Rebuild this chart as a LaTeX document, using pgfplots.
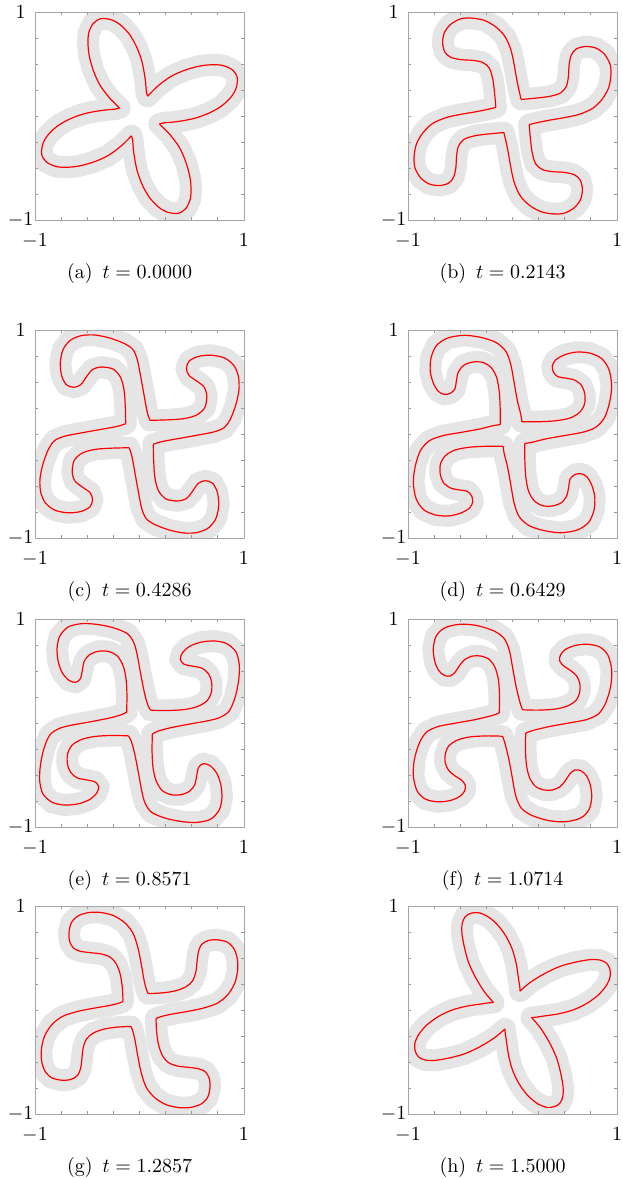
\documentclass[border=0pt]{standalone}
\usepackage{pgfplots}
\usepackage{pgfplotstable}
\pgfplotsset{compat=1.18}

% Interface curves: four arms per frame, listed clockwise from the upper-left
% inner corner; the last row repeats the first one to close the curve.
\pgfplotstableread{
x y
-0.190 0.077
-0.286 0.173
-0.381 0.301
-0.445 0.446
-0.483 0.590
-0.493 0.702
-0.486 0.798
-0.445 0.888
-0.381 0.933
-0.324 0.936
-0.254 0.920
-0.174 0.869
-0.094 0.782
-0.030 0.670
0.018 0.542
0.043 0.429
0.059 0.317
0.065 0.237
0.077 0.190
0.173 0.286
0.301 0.381
0.446 0.445
0.590 0.483
0.702 0.493
0.798 0.486
0.888 0.445
0.933 0.381
0.936 0.324
0.920 0.254
0.869 0.174
0.782 0.094
0.670 0.030
0.542 -0.018
0.429 -0.043
0.317 -0.059
0.237 -0.065
0.190 -0.077
0.286 -0.173
0.381 -0.301
0.445 -0.446
0.483 -0.590
0.493 -0.702
0.486 -0.798
0.445 -0.888
0.381 -0.933
0.324 -0.936
0.254 -0.920
0.174 -0.869
0.094 -0.782
0.030 -0.670
-0.018 -0.542
-0.043 -0.429
-0.059 -0.317
-0.065 -0.237
-0.077 -0.190
-0.173 -0.286
-0.301 -0.381
-0.446 -0.445
-0.590 -0.483
-0.702 -0.493
-0.798 -0.486
-0.888 -0.445
-0.933 -0.381
-0.936 -0.324
-0.920 -0.254
-0.869 -0.174
-0.782 -0.094
-0.670 -0.030
-0.542 0.018
-0.429 0.043
-0.317 0.059
-0.237 0.065
-0.190 0.077
}\shapeA

\pgfplotstableread{
x y
-0.159 0.083
-0.175 0.253
-0.191 0.365
-0.223 0.462
-0.287 0.516
-0.382 0.535
-0.494 0.542
-0.589 0.564
-0.646 0.612
-0.669 0.702
-0.653 0.798
-0.596 0.878
-0.500 0.933
-0.398 0.942
-0.271 0.920
-0.159 0.856
-0.073 0.766
-0.016 0.638
0.016 0.494
0.041 0.349
0.064 0.237
0.083 0.159
0.253 0.175
0.365 0.191
0.462 0.223
0.516 0.287
0.535 0.382
0.542 0.494
0.564 0.589
0.612 0.646
0.702 0.669
0.798 0.653
0.878 0.596
0.933 0.500
0.942 0.398
0.920 0.271
0.856 0.159
0.766 0.073
0.638 0.016
0.494 -0.016
0.349 -0.041
0.237 -0.064
0.159 -0.083
0.175 -0.253
0.191 -0.365
0.223 -0.462
0.287 -0.516
0.382 -0.535
0.494 -0.542
0.589 -0.564
0.646 -0.612
0.669 -0.702
0.653 -0.798
0.596 -0.878
0.500 -0.933
0.398 -0.942
0.271 -0.920
0.159 -0.856
0.073 -0.766
0.016 -0.638
-0.016 -0.494
-0.041 -0.349
-0.064 -0.237
-0.083 -0.159
-0.253 -0.175
-0.365 -0.191
-0.462 -0.223
-0.516 -0.287
-0.535 -0.382
-0.542 -0.494
-0.564 -0.589
-0.612 -0.646
-0.702 -0.669
-0.798 -0.653
-0.878 -0.596
-0.933 -0.500
-0.942 -0.398
-0.920 -0.271
-0.856 -0.159
-0.766 -0.073
-0.638 -0.016
-0.494 0.016
-0.349 0.041
-0.237 0.064
-0.159 0.083
}\shapeB

\pgfplotstableread{
x y
-0.132 0.099
-0.136 0.266
-0.148 0.426
-0.183 0.548
-0.254 0.625
-0.365 0.644
-0.451 0.619
-0.509 0.548
-0.563 0.474
-0.630 0.449
-0.700 0.474
-0.745 0.561
-0.758 0.683
-0.732 0.811
-0.662 0.901
-0.557 0.946
-0.429 0.952
-0.285 0.923
-0.142 0.869
-0.062 0.811
-0.021 0.715
0.008 0.571
0.040 0.394
0.072 0.218
0.099 0.132
0.266 0.136
0.426 0.148
0.548 0.183
0.625 0.254
0.644 0.365
0.619 0.451
0.548 0.509
0.474 0.563
0.449 0.630
0.474 0.700
0.561 0.745
0.683 0.758
0.811 0.732
0.901 0.662
0.946 0.557
0.952 0.429
0.923 0.285
0.869 0.142
0.811 0.062
0.715 0.021
0.571 -0.008
0.394 -0.040
0.218 -0.072
0.132 -0.099
0.136 -0.266
0.148 -0.426
0.183 -0.548
0.254 -0.625
0.365 -0.644
0.451 -0.619
0.509 -0.548
0.563 -0.474
0.630 -0.449
0.700 -0.474
0.745 -0.561
0.758 -0.683
0.732 -0.811
0.662 -0.901
0.557 -0.946
0.429 -0.952
0.285 -0.923
0.142 -0.869
0.062 -0.811
0.021 -0.715
-0.008 -0.571
-0.040 -0.394
-0.072 -0.218
-0.099 -0.132
-0.266 -0.136
-0.426 -0.148
-0.548 -0.183
-0.625 -0.254
-0.644 -0.365
-0.619 -0.451
-0.548 -0.509
-0.474 -0.563
-0.449 -0.630
-0.474 -0.700
-0.561 -0.745
-0.683 -0.758
-0.811 -0.732
-0.901 -0.662
-0.946 -0.557
-0.952 -0.429
-0.923 -0.285
-0.869 -0.142
-0.811 -0.062
-0.715 -0.021
-0.571 0.008
-0.394 0.040
-0.218 0.072
-0.132 0.099
}\shapeC

\pgfplotstableread{
x y
-0.118 0.090
-0.118 0.250
-0.127 0.410
-0.153 0.548
-0.207 0.641
-0.287 0.689
-0.382 0.692
-0.468 0.660
-0.519 0.593
-0.538 0.506
-0.551 0.433
-0.596 0.391
-0.653 0.381
-0.710 0.410
-0.758 0.490
-0.787 0.603
-0.780 0.731
-0.729 0.849
-0.621 0.923
-0.462 0.949
-0.303 0.929
-0.159 0.881
-0.064 0.795
-0.016 0.667
0.016 0.490
0.048 0.314
0.080 0.186
0.090 0.118
0.250 0.118
0.410 0.127
0.548 0.153
0.641 0.207
0.689 0.287
0.692 0.382
0.660 0.468
0.593 0.519
0.506 0.538
0.433 0.551
0.391 0.596
0.381 0.653
0.410 0.710
0.490 0.758
0.603 0.787
0.731 0.780
0.849 0.729
0.923 0.621
0.949 0.462
0.929 0.303
0.881 0.159
0.795 0.064
0.667 0.016
0.490 -0.016
0.314 -0.048
0.186 -0.080
0.118 -0.090
0.118 -0.250
0.127 -0.410
0.153 -0.548
0.207 -0.641
0.287 -0.689
0.382 -0.692
0.468 -0.660
0.519 -0.593
0.538 -0.506
0.551 -0.433
0.596 -0.391
0.653 -0.381
0.710 -0.410
0.758 -0.490
0.787 -0.603
0.780 -0.731
0.729 -0.849
0.621 -0.923
0.462 -0.949
0.303 -0.929
0.159 -0.881
0.064 -0.795
0.016 -0.667
-0.016 -0.490
-0.048 -0.314
-0.080 -0.186
-0.090 -0.118
-0.250 -0.118
-0.410 -0.127
-0.548 -0.153
-0.641 -0.207
-0.689 -0.287
-0.692 -0.382
-0.660 -0.468
-0.593 -0.519
-0.506 -0.538
-0.433 -0.551
-0.391 -0.596
-0.381 -0.653
-0.410 -0.710
-0.490 -0.758
-0.603 -0.787
-0.731 -0.780
-0.849 -0.729
-0.923 -0.621
-0.949 -0.462
-0.929 -0.303
-0.881 -0.159
-0.795 -0.064
-0.667 -0.016
-0.490 0.016
-0.314 0.048
-0.186 0.080
-0.118 0.090
}\shapeD

\pgfplotstableread{
x y
-0.123 0.106
-0.120 0.266
-0.129 0.426
-0.158 0.554
-0.215 0.647
-0.301 0.689
-0.397 0.689
-0.477 0.657
-0.528 0.596
-0.547 0.506
-0.566 0.426
-0.611 0.391
-0.675 0.410
-0.738 0.481
-0.777 0.587
-0.789 0.715
-0.764 0.833
-0.684 0.923
-0.557 0.955
-0.413 0.949
-0.254 0.917
-0.116 0.859
-0.053 0.769
-0.021 0.651
0.011 0.474
0.049 0.282
0.081 0.170
0.106 0.123
0.266 0.120
0.426 0.129
0.554 0.158
0.647 0.215
0.689 0.301
0.689 0.397
0.657 0.477
0.596 0.528
0.506 0.547
0.426 0.566
0.391 0.611
0.410 0.675
0.481 0.738
0.587 0.777
0.715 0.789
0.833 0.764
0.923 0.684
0.955 0.557
0.949 0.413
0.917 0.254
0.859 0.116
0.769 0.053
0.651 0.021
0.474 -0.011
0.282 -0.049
0.170 -0.081
0.123 -0.106
0.120 -0.266
0.129 -0.426
0.158 -0.554
0.215 -0.647
0.301 -0.689
0.397 -0.689
0.477 -0.657
0.528 -0.596
0.547 -0.506
0.566 -0.426
0.611 -0.391
0.675 -0.410
0.738 -0.481
0.777 -0.587
0.789 -0.715
0.764 -0.833
0.684 -0.923
0.557 -0.955
0.413 -0.949
0.254 -0.917
0.116 -0.859
0.053 -0.769
0.021 -0.651
-0.011 -0.474
-0.049 -0.282
-0.081 -0.170
-0.106 -0.123
-0.266 -0.120
-0.426 -0.129
-0.554 -0.158
-0.647 -0.215
-0.689 -0.301
-0.689 -0.397
-0.657 -0.477
-0.596 -0.528
-0.506 -0.547
-0.426 -0.566
-0.391 -0.611
-0.410 -0.675
-0.481 -0.738
-0.587 -0.777
-0.715 -0.789
-0.833 -0.764
-0.923 -0.684
-0.955 -0.557
-0.949 -0.413
-0.917 -0.254
-0.859 -0.116
-0.769 -0.053
-0.651 -0.021
-0.474 0.011
-0.282 0.049
-0.170 0.081
-0.123 0.106
}\shapeE

\pgfplotstableread{
x y
-0.127 0.096
-0.124 0.250
-0.134 0.410
-0.166 0.532
-0.223 0.612
-0.303 0.644
-0.382 0.644
-0.455 0.612
-0.506 0.554
-0.548 0.490
-0.596 0.452
-0.653 0.458
-0.707 0.506
-0.745 0.596
-0.758 0.715
-0.732 0.833
-0.653 0.913
-0.510 0.949
-0.350 0.939
-0.191 0.891
-0.086 0.821
-0.032 0.705
0.000 0.538
0.032 0.362
0.070 0.202
0.096 0.127
0.250 0.124
0.410 0.134
0.532 0.166
0.612 0.223
0.644 0.303
0.644 0.382
0.612 0.455
0.554 0.506
0.490 0.548
0.452 0.596
0.458 0.653
0.506 0.707
0.596 0.745
0.715 0.758
0.833 0.732
0.913 0.653
0.949 0.510
0.939 0.350
0.891 0.191
0.821 0.086
0.705 0.032
0.538 0.000
0.362 -0.032
0.202 -0.070
0.127 -0.096
0.124 -0.250
0.134 -0.410
0.166 -0.532
0.223 -0.612
0.303 -0.644
0.382 -0.644
0.455 -0.612
0.506 -0.554
0.548 -0.490
0.596 -0.452
0.653 -0.458
0.707 -0.506
0.745 -0.596
0.758 -0.715
0.732 -0.833
0.653 -0.913
0.510 -0.949
0.350 -0.939
0.191 -0.891
0.086 -0.821
0.032 -0.705
0.000 -0.538
-0.032 -0.362
-0.070 -0.202
-0.096 -0.127
-0.250 -0.124
-0.410 -0.134
-0.532 -0.166
-0.612 -0.223
-0.644 -0.303
-0.644 -0.382
-0.612 -0.455
-0.554 -0.506
-0.490 -0.548
-0.452 -0.596
-0.458 -0.653
-0.506 -0.707
-0.596 -0.745
-0.715 -0.758
-0.833 -0.732
-0.913 -0.653
-0.949 -0.510
-0.939 -0.350
-0.891 -0.191
-0.821 -0.086
-0.705 -0.032
-0.538 0.000
-0.362 0.032
-0.202 0.070
-0.127 0.096
}\shapeF

\pgfplotstableread{
x y
-0.158 0.082
-0.164 0.210
-0.183 0.338
-0.222 0.443
-0.279 0.507
-0.365 0.539
-0.477 0.552
-0.566 0.565
-0.630 0.594
-0.668 0.658
-0.675 0.744
-0.652 0.840
-0.589 0.904
-0.493 0.936
-0.381 0.939
-0.254 0.910
-0.142 0.840
-0.062 0.738
-0.014 0.594
0.018 0.434
0.043 0.290
0.065 0.200
0.082 0.158
0.210 0.164
0.338 0.183
0.443 0.222
0.507 0.279
0.539 0.365
0.552 0.477
0.565 0.566
0.594 0.630
0.658 0.668
0.744 0.675
0.840 0.652
0.904 0.589
0.936 0.493
0.939 0.381
0.910 0.254
0.840 0.142
0.738 0.062
0.594 0.014
0.434 -0.018
0.290 -0.043
0.200 -0.065
0.158 -0.082
0.164 -0.210
0.183 -0.338
0.222 -0.443
0.279 -0.507
0.365 -0.539
0.477 -0.552
0.566 -0.565
0.630 -0.594
0.668 -0.658
0.675 -0.744
0.652 -0.840
0.589 -0.904
0.493 -0.936
0.381 -0.939
0.254 -0.910
0.142 -0.840
0.062 -0.738
0.014 -0.594
-0.018 -0.434
-0.043 -0.290
-0.065 -0.200
-0.082 -0.158
-0.210 -0.164
-0.338 -0.183
-0.443 -0.222
-0.507 -0.279
-0.539 -0.365
-0.552 -0.477
-0.565 -0.566
-0.594 -0.630
-0.658 -0.668
-0.744 -0.675
-0.840 -0.652
-0.904 -0.589
-0.936 -0.493
-0.939 -0.381
-0.910 -0.254
-0.840 -0.142
-0.738 -0.062
-0.594 -0.014
-0.434 0.018
-0.290 0.043
-0.200 0.065
-0.158 0.082
}\shapeG

\pgfplotstableread{
x y
-0.182 0.072
-0.264 0.168
-0.350 0.306
-0.420 0.456
-0.462 0.610
-0.484 0.738
-0.481 0.834
-0.452 0.898
-0.398 0.930
-0.328 0.936
-0.245 0.904
-0.150 0.827
-0.064 0.712
0.000 0.578
0.038 0.434
0.057 0.306
0.070 0.219
0.072 0.182
0.168 0.264
0.306 0.350
0.456 0.420
0.610 0.462
0.738 0.484
0.834 0.481
0.898 0.452
0.930 0.398
0.936 0.328
0.904 0.245
0.827 0.150
0.712 0.064
0.578 0.000
0.434 -0.038
0.306 -0.057
0.219 -0.070
0.182 -0.072
0.264 -0.168
0.350 -0.306
0.420 -0.456
0.462 -0.610
0.484 -0.738
0.481 -0.834
0.452 -0.898
0.398 -0.930
0.328 -0.936
0.245 -0.904
0.150 -0.827
0.064 -0.712
0.000 -0.578
-0.038 -0.434
-0.057 -0.306
-0.070 -0.219
-0.072 -0.182
-0.168 -0.264
-0.306 -0.350
-0.456 -0.420
-0.610 -0.462
-0.738 -0.484
-0.834 -0.481
-0.898 -0.452
-0.930 -0.398
-0.936 -0.328
-0.904 -0.245
-0.827 -0.150
-0.712 -0.064
-0.578 0.000
-0.434 0.038
-0.306 0.057
-0.219 0.070
-0.182 0.072
}\shapeH

\pgfplotsset{
  panel/.style={
    scale only axis, width=104.5pt, height=104pt,
    xmin=-1, xmax=1, ymin=-1, ymax=1,
    anchor=south west, axis on top,
    axis line style={black!35, line width=0.4pt},
    xtick={-1,1}, ytick={-1,1},
    minor xtick={-0.75,-0.5,-0.25,0,0.25,0.5,0.75},
    minor ytick={-0.75,-0.5,-0.25,0,0.25,0.5,0.75},
    tick align=inside,
    major tick length=1.5pt, minor tick length=1.5pt,
    tick style={black!40, line width=0.4pt},
    xticklabels={$-1$,\raisebox{-1.5pt}{$1$}},
    yticklabels={$-1$,$1$},
    xticklabel style={anchor=north, yshift=-3.5pt},
    yticklabel style={anchor=center, xshift=-7.2pt},
  },
  band/.style={draw=black!10, line width=11pt, line join=round, line cap=round, no markers},
  curve/.style={red, line width=0.6pt, smooth, no markers},
}

% band of grid nodes around the interface, then the interface arm by arm
\newcommand{\drawshape}[5]{%
  \addplot[band] table {#1};
  \addplot[curve, restrict expr to domain={\coordindex}{0:#2}] table {#1};
  \addplot[curve, restrict expr to domain={\coordindex}{#2:#3}] table {#1};
  \addplot[curve, restrict expr to domain={\coordindex}{#3:#4}] table {#1};
  \addplot[curve, restrict expr to domain={\coordindex}{#4:#5}] table {#1};
}

\begin{document}
\begin{tikzpicture}
\useasboundingbox (0,0) rectangle (311pt,-589.5pt);

\begin{axis}[panel, at={(17.5pt,-110pt)}]
  \drawshape{\shapeA}{18}{36}{54}{72}
\end{axis}
\node[anchor=base] at (64.8pt,-139.2pt) {(a)\hspace{5pt}$t = 0.0000$};

\begin{axis}[panel, at={(204pt,-110pt)}]
  \drawshape{\shapeB}{21}{42}{63}{84}
\end{axis}
\node[anchor=base] at (251.3pt,-139.2pt) {(b)\hspace{5pt}$t = 0.2143$};

\begin{axis}[panel, at={(17.5pt,-269pt)}]
  \drawshape{\shapeC}{24}{48}{72}{96}
\end{axis}
\node[anchor=base] at (64.8pt,-298.2pt) {(c)\hspace{5pt}$t = 0.4286$};

\begin{axis}[panel, at={(204pt,-269pt)}]
  \drawshape{\shapeD}{27}{54}{81}{108}
\end{axis}
\node[anchor=base] at (251.3pt,-298.2pt) {(d)\hspace{5pt}$t = 0.6429$};

\begin{axis}[panel, at={(17.5pt,-413.5pt)}]
  \drawshape{\shapeE}{27}{54}{81}{108}
\end{axis}
\node[anchor=base] at (64.8pt,-442.7pt) {(e)\hspace{5pt}$t = 0.8571$};

\begin{axis}[panel, at={(204pt,-413.5pt)}]
  \drawshape{\shapeF}{25}{50}{75}{100}
\end{axis}
\node[anchor=base] at (251.3pt,-442.7pt) {(f)\hspace{5pt}$t = 1.0714$};

\begin{axis}[panel, at={(17.5pt,-557pt)}]
  \drawshape{\shapeG}{22}{44}{66}{88}
\end{axis}
\node[anchor=base] at (64.8pt,-586.2pt) {(g)\hspace{5pt}$t = 1.2857$};

\begin{axis}[panel, at={(204pt,-557pt)}]
  \drawshape{\shapeH}{17}{34}{51}{68}
\end{axis}
\node[anchor=base] at (251.3pt,-586.2pt) {(h)\hspace{5pt}$t = 1.5000$};
\end{tikzpicture}
\end{document}
